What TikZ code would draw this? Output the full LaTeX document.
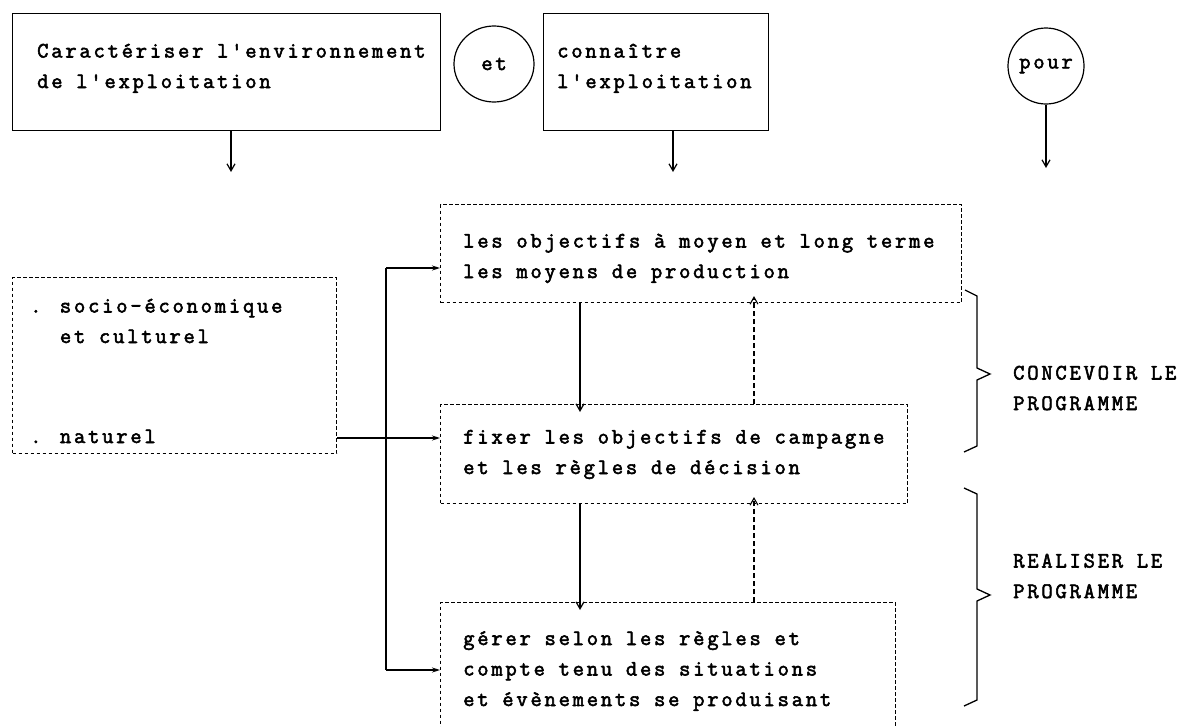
\documentclass[tikz,border=0pt]{standalone}
\usepackage{fontspec}
\newfontfamily\tw{Latin Modern Mono}[LetterSpace=12.5, FakeBold=2.5]
\usetikzlibrary{arrows.meta,shapes.geometric}
\newcommand\twfont{\tw\fontsize{22}{30.5}\selectfont\spaceskip=13.7pt\relax}
\begin{document}
\begin{tikzpicture}[x=1pt,y=-1pt,
  txt/.style={font=\twfont, align=left, inner sep=0pt, anchor=base west},
  solidbox/.style={draw, line width=1.3pt, anchor=north west, inner sep=0pt},
  dotbox/.style={draw, line width=1.1pt, dash pattern=on 3.5pt off 2.5pt, anchor=north west, inner sep=0pt},
  oval/.style={draw, ellipse, line width=1.2pt, inner sep=0pt, font=\twfont},
  arr/.style={line width=1.2pt, -{Straight Barb[length=7pt,width=8pt]}},
  darr/.style={line width=1.1pt, dash pattern=on 5pt off 3pt, -{Straight Barb[length=7pt,width=8pt]}},
  rarr/.style={line width=1.2pt, -{Stealth[length=8pt,width=5pt]}},
  brace/.style={line width=1.3pt, line join=miter}]
\useasboundingbox (0,0) rectangle (1186,726);
\clip (0,0) rectangle (1186,726);

% top row (text nodes are placed by the baseline of their last line)
\node[solidbox, minimum width=428pt, minimum height=117pt] (env) at (12,13) {};
\node[txt] (envt) at (37,88) {Caractériser l'environnement\\de l'exploitation};
\node[oval, minimum width=80pt, minimum height=76pt] (et) at (494,64) {et};
\node[solidbox, minimum width=225pt, minimum height=117pt] (expl) at (543,13) {};
\node[txt] (explt) at (557,88) {connaître\\l'exploitation};
\node[oval, minimum width=76pt, minimum height=76pt] (pour) at (1046,66) {pour};

\coordinate (e1) at (231,172);
\coordinate (e2) at (673,172);
\coordinate (e3) at (1046,168);
\draw[arr] (env.south -| e1) -- (e1);
\draw[arr] (expl.south -| e2) -- (e2);
\draw[arr] (pour.south) -- (e3);

% environment box
\node[dotbox, minimum width=324pt, minimum height=176pt] (milieu) at (12,277) {};
\node[txt] (milieut) at (30,343) {. socio-économique\\\hphantom{. }et culturel};
\node[txt] (naturel) at (30,443) {. naturel};

% three levels
\node[dotbox, minimum width=521pt, minimum height=98pt] (A) at (440,204) {};
\node[txt] (At) at (463,278) {les objectifs à moyen et long terme\\les moyens de production};
\node[dotbox, minimum width=467pt, minimum height=99pt] (B) at (440,404) {};
\node[txt] (Bt) at (463,474) {fixer les objectifs de campagne\\et les règles de décision};
\node[dotbox, minimum width=455pt, minimum height=160pt] (C) at (440,602) {};
\node[txt] (Ct) at (463,706) {gérer selon les règles et\\compte tenu des situations\\et évènements se produisant};

% distribution line
\coordinate (j1) at (386,268);
\coordinate (j2) at (386,670);
\draw[line width=1.2pt] (j1) -- (j2);
\draw[rarr] (j1) -- (j1 -| A.west);
\draw[rarr] (milieu.east |- 0,438) -- (B.west |- 0,438);
\draw[rarr] (j2) -- (j2 -| C.west);

% descending and feedback arrows
\coordinate (dn) at (580,0);
\coordinate (up) at (754,0);
\draw[arr] (A.south -| dn) -- ([yshift=-8pt]B.north -| dn);
\draw[arr] (B.south -| dn) -- ([yshift=-8pt]C.north -| dn);
\draw[darr] (B.north -| up) -- ([yshift=7pt]A.south -| up);
\draw[darr] (C.north -| up) -- ([yshift=7pt]B.south -| up);

% braces
\draw[brace] (965,290) -- (977,296) -- (977,368) -- (990,374) -- (977,380) -- (977,446) -- (964,452);
\draw[brace] (964,488) -- (977,494) -- (977,589) -- (990,595) -- (977,601) -- (977,700) -- (964,706);
\node[txt] (conc) at (1013,410) {CONCEVOIR LE\\PROGRAMME};
\node[txt] (real) at (1013,598) {REALISER LE\\PROGRAMME};
\end{tikzpicture}
\end{document}
